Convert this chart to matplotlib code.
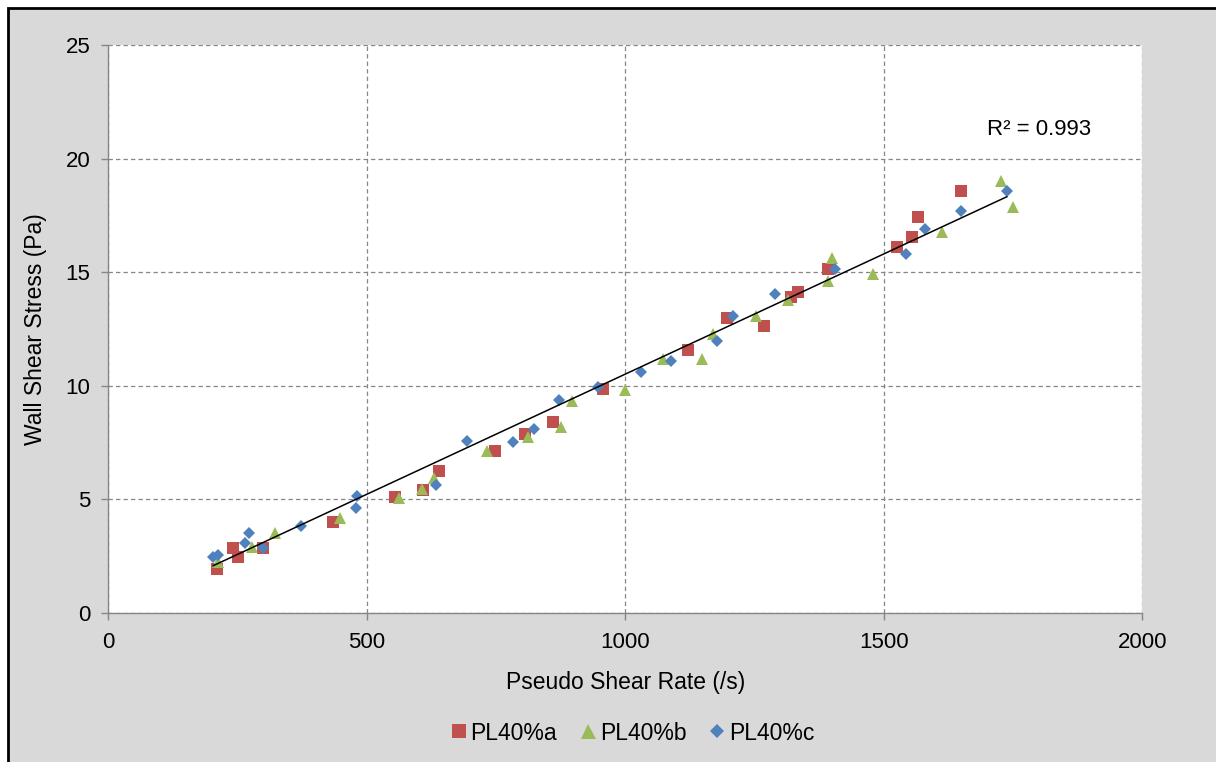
import numpy as np
import matplotlib
matplotlib.use("Agg")
import matplotlib.pyplot as plt
from matplotlib.patches import Rectangle

# Pseudo shear rate (/s) and wall shear stress (Pa)
rate_a = [210, 241, 251, 299, 435, 555, 609, 640, 748, 806, 861, 957,
          1121, 1196, 1268, 1320, 1335, 1393, 1525, 1554, 1567, 1649]
stress_a = [1.91, 2.84, 2.47, 2.85, 4.00, 5.10, 5.40, 6.24, 7.13, 7.87, 8.38, 9.84,
            11.57, 12.99, 12.62, 13.91, 14.13, 15.13, 16.12, 16.56, 17.44, 18.58]

rate_b = [212, 278, 322, 448, 562, 607, 630, 732, 811, 875, 897, 999,
          1072, 1148, 1170, 1253, 1315, 1399, 1393, 1480, 1612, 1726, 1749]
stress_b = [2.23, 2.89, 3.52, 4.18, 5.05, 5.45, 5.93, 7.13, 7.75, 8.19, 9.32, 9.81,
            11.17, 11.16, 12.27, 13.06, 13.77, 15.61, 14.62, 14.91, 16.78, 19.02, 17.88]

rate_c = [203, 212, 264, 273, 299, 373, 481, 479, 634, 694, 783, 823,
          872, 948, 1030, 1088, 1177, 1209, 1289, 1406, 1543, 1580, 1649, 1738]
stress_c = [2.45, 2.54, 3.08, 3.50, 2.85, 3.82, 5.14, 4.61, 5.62, 7.56, 7.50, 8.09,
            9.37, 9.95, 10.59, 11.08, 11.98, 13.06, 14.02, 15.13, 15.79, 16.90, 17.70, 18.58]

series_names = ["PL40%a", "PL40%b", "PL40%c"]
r2_label = "R\u00b2 = 0.993"

W, H = 1216, 762
GRID = "#868686"
BG = "#D9D9D9"


def draw_frame(fig):
    # grey chart area with a black edge on the left and top (rest is cropped off)
    fig.patches.append(Rectangle((7.5 / W, -0.2), 1.5, 1.2 - 7.5 / H,
                                 transform=fig.transFigure, facecolor=BG,
                                 edgecolor="black", linewidth=2.0, zorder=-10))


def main():
    plt.rcParams['font.family'] = ['Liberation Sans', 'DejaVu Sans']
    fig = plt.figure(figsize=(W / 100, H / 100), dpi=100, facecolor="white")
    draw_frame(fig)

    ax = fig.add_axes([108.3 / W, 1 - 612.7 / H, 1034 / W, 567.7 / H])
    ax.set_facecolor("white")

    ax.plot(rate_a, stress_a, linestyle="none", marker="s", ms=8.5,
            color="#C0504D", markeredgewidth=0, label=series_names[0], zorder=3)
    ax.plot(rate_b, stress_b, linestyle="none", marker="^", ms=9,
            color="#9BBB59", markeredgewidth=0, label=series_names[1], zorder=3)
    ax.plot(rate_c, stress_c, linestyle="none", marker="D", ms=6.3,
            color="#4F81BD", markeredgewidth=0, label=series_names[2], zorder=3)

    # linear trendline over the last series
    k, b = np.polyfit(rate_c, stress_c, 1)
    xs = np.array([min(rate_c), max(rate_c)])
    ax.plot(xs, k * xs + b, color="black", linewidth=1.1, zorder=4)
    ax.text(1700, 21.3, r2_label, fontsize=16, va="center", ha="left")

    ax.set_xlim(0, 2000)
    ax.set_ylim(0, 25)
    ax.set_xticks([0, 500, 1000, 1500, 2000])
    ax.set_yticks([0, 5, 10, 15, 20, 25])
    ax.grid(True, color=GRID, linestyle=(0, (3.5, 2.5)), linewidth=0.9)
    ax.set_axisbelow(True)

    for side in ["top", "right"]:
        ax.spines[side].set_visible(False)
    for side in ["left", "bottom"]:
        ax.spines[side].set_color(GRID)
        ax.spines[side].set_linewidth(1.0)
    ax.tick_params(axis="both", direction="out", length=5, width=1.0,
                   color=GRID, labelsize=16)
    ax.tick_params(axis="y", pad=8)
    ax.tick_params(axis="x", pad=9)

    ax.set_xlabel("Pseudo Shear Rate (/s)", fontsize=16.5, labelpad=13)
    ax.set_ylabel("Wall Shear Stress (Pa)", fontsize=16.5, labelpad=13)

    ax.legend(loc="center", bbox_to_anchor=(632 / W, 1 - 733 / H),
              bbox_transform=fig.transFigure, ncol=3, frameon=False,
              fontsize=16.5, handlelength=0.8, handletextpad=0.1,
              columnspacing=0.95, markerscale=1.2)

    fig.savefig("out.png", dpi=100, facecolor=fig.get_facecolor())
    plt.close(fig)
    print("Plot saved to: out.png")


if __name__ == "__main__":
    main()
